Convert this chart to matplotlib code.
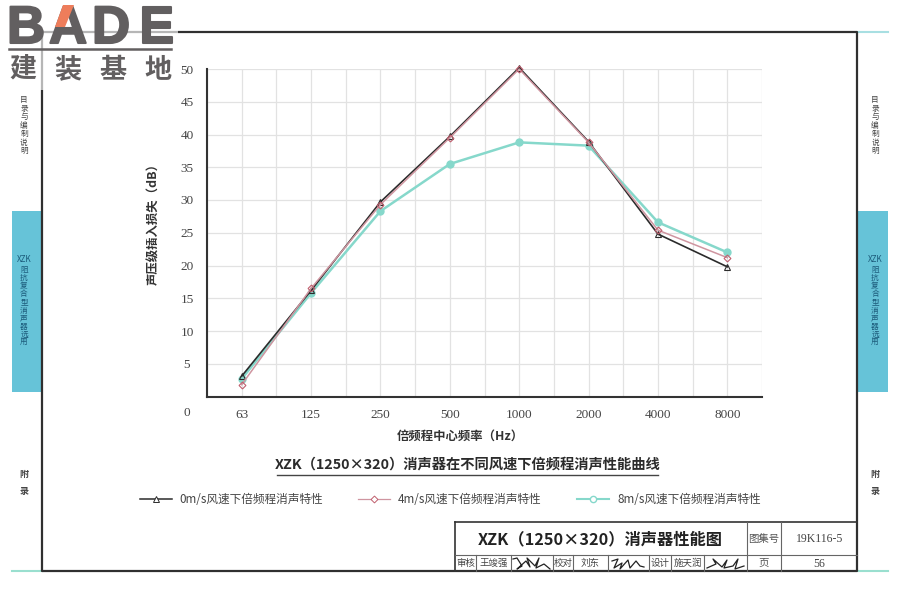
import matplotlib
matplotlib.use('Agg')
import matplotlib.pyplot as plt
import matplotlib.patheffects as pe
from matplotlib.patches import Rectangle, Polygon

plt.rcParams['font.family'] = ['Noto Sans CJK SC', 'DejaVu Sans']

freqs = ['63', '125', '250', '500', '1000', '2000', '4000', '8000']
loss_0 = [3.1, 16.2, 29.7, 39.7, 50.2, 38.9, 24.8, 19.8]
loss_4 = [1.8, 16.5, 29.3, 39.5, 50.0, 38.8, 25.4, 21.2]
loss_8 = [2.7, 15.8, 28.3, 35.5, 38.8, 38.3, 26.6, 22.0]
y_ticks = [5, 10, 15, 20, 25, 30, 35, 40, 45, 50]
labels = ['0m/s风速下倍频程消声特性', '4m/s风速下倍频程消声特性', '8m/s风速下倍频程消声特性']

BLACK = '#2b2b2b'
PINK = '#cf95a0'
TEAL = '#86d8cb'
CYAN = '#66c3d8'
GRID = '#e2e2e2'
LOGO = '#625f60'
NUM_FONT = 'Liberation Serif'

fig = plt.figure(figsize=(9, 6), dpi=100)

# page furniture, in pixel coordinates
bg = fig.add_axes([0, 0, 1, 1])
bg.set_xlim(0, 900)
bg.set_ylim(600, 0)
bg.axis('off')

# side tabs
bg.add_patch(Rectangle((12, 211), 30, 181, color=CYAN, lw=0))
bg.add_patch(Rectangle((858, 211), 30, 181, color=CYAN, lw=0))
bg.plot([858, 888], [32, 32], color='#a8dfe2', lw=1.5)
bg.plot([858, 888], [571, 571], color='#9adfcf', lw=1.5)
bg.plot([12, 42], [571, 571], color='#9adfcf', lw=1.5)

# outer frame
bg.plot([42, 42, 857, 857, 42], [32, 571, 571, 32, 32], color='#303030', lw=1.6)


def stacked(cx, y0, step, chars, **kw):
    for i, ch in enumerate(chars):
        bg.text(cx, y0 + i * step, ch, ha='center', va='center_baseline', **kw)


for cx in [24, 875]:
    stacked(cx, 99, 8.5, '目录与编制说明', fontsize=5.5, color='#444444', fontweight='medium')
    bg.text(cx, 259, 'XZK', fontsize=5.8, ha='center', va='center', color='#1b5a7a', fontweight='medium')
    stacked(cx, 269, 8.1, '阻抗复合型消声器选用', fontsize=5.5, color='#1b5a7a', fontweight='medium')
    stacked(cx, 473, 17.5, '附录', fontsize=6.5, color='#444444', fontweight='bold')

# logo sits over a washed out corner of the frame
bg.add_patch(Rectangle((0, 0), 178, 90, color='white', alpha=0.65, lw=0, zorder=3))
for lx, ch in zip([7, 49, 92, 139], 'BADE'):
    bg.text(lx, 43, ch, fontsize=38, family='Liberation Sans', fontweight='bold', color=LOGO,
            ha='left', va='baseline', zorder=4,
            path_effects=[pe.withStroke(linewidth=1.5, foreground=LOGO)])
bg.add_patch(Polygon([[74, 5], [63, 5], [55, 27], [65, 27]], color='#ee7d5b', lw=0, zorder=5))
bg.plot([9, 171], [48.5, 48.5], color=LOGO, lw=1.8, zorder=4)
for lx, ch in zip([23, 68, 113, 158], '建装基地'):
    bg.text(lx, 69, ch, fontsize=19.5, fontweight='bold', color=LOGO, ha='center', va='center', zorder=4)

# chart
ax = fig.add_axes([207 / 900, (600 - 396.5) / 600, 555 / 900, 327.5 / 600])
ax.set_xlim(-0.5, 7.5)
ax.set_ylim(0, 50)
ax.patch.set_alpha(0)
ax.set_xticks(range(len(freqs)))
ax.set_xticklabels(freqs, family=NUM_FONT, fontsize=9.5, color='#444444')
ax.set_yticks(y_ticks)
ax.set_yticklabels(y_ticks, family=NUM_FONT, fontsize=9.5, color='#444444', ha='center')
ax.tick_params(length=0)
ax.tick_params(axis='x', pad=9)
ax.tick_params(axis='y', pad=14.4)
ax.set_xticks([i + 0.5 for i in range(-1, 8)], minor=True)
ax.tick_params(which='minor', length=0)
ax.grid(True, which='both', color=GRID, lw=0.9)
ax.set_axisbelow(True)
for side in ['top', 'right']:
    ax.spines[side].set_visible(False)
for side in ['left', 'bottom']:
    ax.spines[side].set_color('#333333')
    ax.spines[side].set_linewidth(1.5)

x = list(range(len(freqs)))
ax.plot(x, loss_8, color=TEAL, lw=1.8, marker='o', ms=5, mfc=TEAL, mec=TEAL, clip_on=False, zorder=3)
ax.plot(x, loss_0, color=BLACK, lw=1.2, marker='^', ms=4, mfc='none', mec=BLACK, mew=0.8, clip_on=False, zorder=4)
ax.plot(x, loss_4, color=PINK, lw=1.1, marker='D', ms=3.5, mfc='none', mec='#c0606f', mew=0.8, clip_on=False, zorder=5)

bg.text(187, 413, '0', family=NUM_FONT, fontsize=9.5, color='#444444', ha='center', va='center')
bg.text(460, 436, '倍频程中心频率（Hz）', fontsize=8.9, color='#333333', ha='center', va='center', fontweight='bold')
bg.text(154, 221, '声压级插入损失（dB）', fontsize=8.9, color='#333333', ha='center', va='center',
        rotation=90, fontweight='bold')

bg.text(467.5, 465, 'XZK（1250×320）消声器在不同风速下倍频程消声性能曲线', fontsize=10.3, color='#2b2b2b',
        ha='center', va='center', fontweight='bold')
bg.plot([277, 658], [475, 475], color='#444444', lw=1)

# legend row
bg.plot([140, 172], [499, 499], color=BLACK, lw=1.1, zorder=2)
bg.plot([358, 390], [499, 499], color=PINK, lw=0.9, zorder=2)
bg.plot([577, 609], [499, 499], color=TEAL, lw=1.5, zorder=2)
bg.plot([156], [499], marker='^', ms=4.5, mfc='white', mec=BLACK, mew=0.7, zorder=3)
bg.plot([374], [499], marker='D', ms=3.5, mfc='white', mec='#c0606f', mew=0.7, zorder=3)
bg.plot([593], [499], marker='o', ms=4.5, mfc='white', mec=TEAL, mew=1, zorder=3)
for tx, lab in zip([179, 398, 618], labels):
    bg.text(tx, 499.5, lab, fontsize=8.4, color='#444444', ha='left', va='center')

# title block
bg.plot([455, 455], [522, 571], color='#333333', lw=1.2)
bg.plot([455, 857], [522, 522], color='#333333', lw=1.2)
bg.plot([455, 857], [555, 555], color='#666666', lw=0.8)
for vx in [746.5, 781]:
    bg.plot([vx, vx], [522, 571], color='#666666', lw=0.8)
for vx in [476, 511, 553, 573, 608, 649, 671, 704]:
    bg.plot([vx, vx], [555, 571], color='#666666', lw=0.8)

bg.text(600.5, 539, 'XZK（1250×320）消声器性能图', fontsize=11.7, color='#222222', ha='center', va='center',
        fontweight='bold')
bg.text(764, 539, '图集号', fontsize=7.5, color='#555555', ha='center', va='center')
bg.text(820, 539, '19K116-5', family=NUM_FONT, fontsize=8.5, color='#444444', ha='center', va='center')
bg.text(764, 563, '页', fontsize=7.5, color='#555555', ha='center', va='center')
bg.text(819, 564, '56', family=NUM_FONT, fontsize=8.5, color='#444444', ha='center', va='center')
for tx, s in [(465.5, '审核'), (493.5, '王竣强'), (563, '校对'), (590, '刘东'), (660, '设计'), (687.5, '施天润')]:
    bg.text(tx, 563, s, fontsize=6.8, color='#444444', ha='center', va='center')

# signatures
sig_a = [[513, 517, 522, 517, 526, 530, 527, 535, 539, 536, 544, 550],
         [559, 558, 566, 569, 561, 567, 558, 566, 558, 568, 564, 569]]
sig_b = [[612, 618, 614, 622, 620, 628, 630, 636, 640, 644],
         [561, 559, 568, 563, 569, 560, 568, 561, 566, 567]]
sig_c = [[707, 716, 713, 722, 727, 724, 733, 738, 735, 744],
         [568, 564, 559, 567, 560, 568, 566, 559, 569, 566]]
for sx, sy in [sig_a, sig_b, sig_c]:
    bg.plot(sx, sy, color='#222222', lw=0.9)

fig.savefig('out.png', dpi=100)
